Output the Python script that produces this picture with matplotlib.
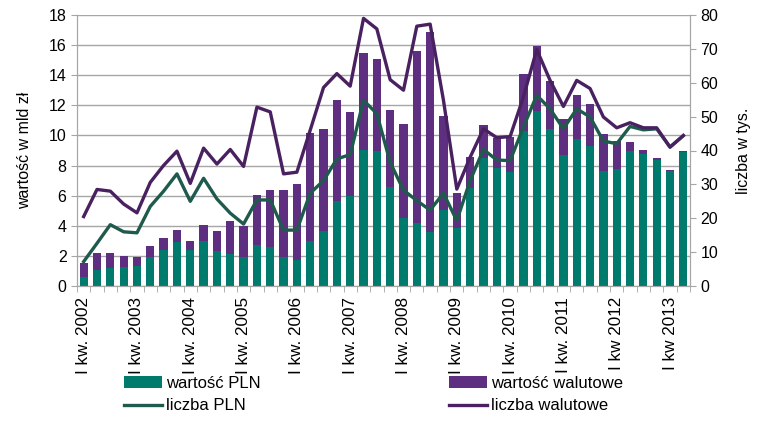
import matplotlib
matplotlib.use("Agg")
import matplotlib.pyplot as plt
import numpy as np

plt.rcParams['font.family'] = ['Liberation Sans', 'DejaVu Sans']

quarters = [f"{q} {y}" for y in range(2002, 2014) for q in ("I", "II", "III", "IV")][:46]
tick_labels = ["I kw. 2002", "I kw. 2003", "I kw. 2004", "I kw. 2005", "I kw. 2006",
               "I kw. 2007", "I kw. 2008", "I kw. 2009", "I kw. 2010", "I kw. 2011",
               "I kw 2012", "I kw 2013"]

# wartość PLN (mld zł)
value_pln = [0.6, 1.07, 1.2, 1.27, 1.31, 1.91, 2.36, 2.91, 2.4, 3.02, 2.33, 2.11,
             1.91, 2.71, 2.58, 1.91, 1.73, 2.96, 3.64, 5.62, 5.96, 9.02, 8.96, 6.56,
             4.51, 4.16, 3.6, 5.04, 3.84, 6.49, 8.51, 7.84, 7.58, 10.29, 11.6, 10.4,
             8.69, 9.78, 9.31, 7.64, 7.78, 9.0, 8.78, 8.4, 7.67, 8.91]
# total value (PLN + walutowe)
value_total = [1.51, 2.22, 2.16, 1.96, 1.91, 2.67, 3.2, 3.71, 3.0, 4.04, 3.67, 4.29,
               3.96, 6.04, 6.4, 6.36, 6.76, 10.18, 10.4, 12.38, 11.56, 15.47, 15.07, 11.69,
               10.78, 15.64, 16.84, 11.27, 6.2, 8.56, 10.67, 9.84, 9.89, 14.07, 15.93, 13.62,
               11.07, 12.71, 12.09, 10.11, 9.62, 9.56, 9.0, 8.51, 7.73, 8.96]
value_fx = [round(t - p, 2) for t, p in zip(value_total, value_pln)]

# liczba (tys.)
count_pln = [7.2, 12.6, 18.1, 16.0, 15.7, 23.5, 28.0, 33.1, 25.0, 31.8, 25.7, 21.5,
             18.3, 25.4, 25.4, 16.5, 16.5, 27.4, 31.1, 37.5, 38.8, 54.8, 50.9, 36.5,
             28.3, 25.2, 22.4, 27.4, 19.3, 31.1, 40.3, 37.2, 37.0, 46.9, 56.3, 52.3,
             46.4, 52.3, 49.9, 42.8, 42.0, 47.1, 46.1, 46.4, 41.0, 44.4]
count_fx = [20.5, 28.5, 28.0, 24.2, 21.6, 30.6, 35.6, 39.8, 30.3, 40.7, 36.0, 40.3,
            35.3, 52.8, 51.4, 33.1, 33.6, 46.0, 58.6, 62.7, 59.0, 79.0, 75.9, 60.9,
            57.8, 76.7, 77.3, 54.8, 28.6, 38.0, 46.4, 43.8, 44.1, 55.8, 69.8, 60.7,
            53.0, 60.7, 58.3, 49.9, 46.7, 48.2, 46.7, 46.7, 41.0, 44.4]

c_pln_bar = "#007A6C"
c_fx_bar = "#5E2F80"
c_pln_line = "#1F5B4C"
c_fx_line = "#4A2160"
grid_c = "#A6A6A6"

fig = plt.figure(figsize=(7.72, 4.28), dpi=100)
ax = fig.add_axes([77/772, 1-286/428, (690-77)/772, (286-15)/428])
ax2 = ax.twinx()

x = np.arange(len(quarters))
w = 0.62
b1 = ax.bar(x, value_pln, width=w, color=c_pln_bar, zorder=2, label="wartość PLN")
b2 = ax.bar(x, value_fx, width=w, bottom=value_pln, color=c_fx_bar, zorder=2,
            label="wartość walutowe")
l1, = ax2.plot(x, count_pln, color=c_pln_line, lw=2.4, label="liczba PLN", zorder=3)
l2, = ax2.plot(x, count_fx, color=c_fx_line, lw=2.4, label="liczba walutowe", zorder=4)

ax.set_xlim(-0.5, len(x) - 0.5)
ax.set_ylim(0, 18)
ax.set_yticks(np.arange(0, 19, 2))
ax2.set_ylim(0, 80)
ax2.set_yticks(np.arange(0, 81, 10))

ax.yaxis.grid(True, color=grid_c, lw=1, zorder=0)
ax.set_axisbelow(True)

fs = 11.5
ax.set_xticks(x[::4])
ax.set_xticklabels(tick_labels, rotation=90, fontsize=12.3)
ax.set_xticks(np.arange(-0.5, len(x), 1), minor=True)
ax.tick_params(axis='x', which='major', length=0, pad=8)
ax.tick_params(axis='x', which='minor', length=4, color=grid_c, direction='out')
ax.tick_params(axis='y', labelsize=fs, length=4, color=grid_c)
ax2.tick_params(axis='y', labelsize=fs, length=4, color=grid_c)

for a in (ax, ax2):
    a.spines['top'].set_visible(False)
    for s in ('left', 'right', 'bottom'):
        a.spines[s].set_color(grid_c)

ax.set_ylabel("wartość w mld zł", fontsize=fs)
ax.yaxis.set_label_coords(-0.074, 0.5)
ax2.set_ylabel("liczba w tys.", fontsize=fs, rotation=90)
ax2.yaxis.set_label_coords(1.075, 0.5)

lfs = 12
leg_kw = dict(loc='upper left', frameon=False, fontsize=lfs, handlelength=2.3,
              handletextpad=0.2, labelspacing=0.45, borderaxespad=0, borderpad=0)
leg1 = fig.legend([b1, l1], ["wartość PLN", "liczba PLN"],
                  bbox_to_anchor=(124/772, 1-376/428), **leg_kw)
leg2 = fig.legend([b2, l2], ["wartość walutowe", "liczba walutowe"],
                  bbox_to_anchor=(449/772, 1-376/428), **leg_kw)

fig.savefig("out.png", dpi=100)
